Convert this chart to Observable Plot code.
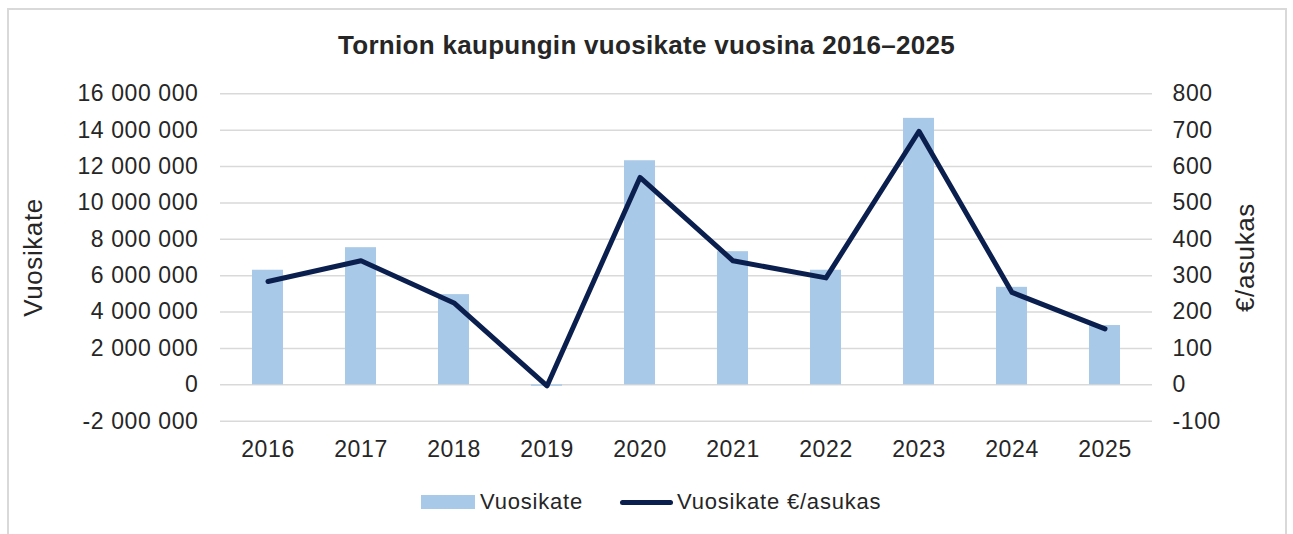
<!DOCTYPE html>
<html>
<head>
<meta charset="utf-8">
<script src="https://cdn.jsdelivr.net/npm/d3@7"></script>
<script src="https://cdn.jsdelivr.net/npm/@observablehq/plot@0.6"></script>
<style>
  html, body { margin: 0; padding: 0; background: #fff; }
  body { width: 1293px; height: 534px; position: relative; overflow: hidden;
         font-family: "Liberation Sans", Arial, sans-serif; color: #262626; }
  #frame { position: absolute; left: 7px; top: 8px; width: 1280px; height: 560px;
           border: 2px solid #d9d9d9; border-bottom: none; box-sizing: border-box; }
  #title { position: absolute; left: 0; top: 32px; width: 1293px; text-align: center;
           font-weight: bold; font-size: 26px; line-height: 26px; letter-spacing: 0.3px; }
  #chart { position: absolute; left: 0; top: 70px; }
  .lg { position: absolute; font-size: 22px; line-height: 22px; letter-spacing: 0.8px; white-space: nowrap; }
</style>
</head>
<body>
<div id="frame"></div>
<div id="title">Tornion kaupungin vuosikate vuosina 2016–2025</div>
<div id="chart"></div>
<div id="legend"></div>
<script>
const years = [2016, 2017, 2018, 2019, 2020, 2021, 2022, 2023, 2024, 2025];
const vuosikate = [6300000, 7540000, 4960000, -80000, 12320000, 7320000, 6300000, 14650000, 5360000, 3260000];
const perAsukas = [284, 341, 225, -3, 570, 341, 294, 697, 254, 154];
const leftTicks = [-2000000, 0, 2000000, 4000000, 6000000, 8000000, 10000000, 12000000, 14000000, 16000000];
const rightTicks = [-100, 0, 100, 200, 300, 400, 500, 600, 700, 800];
const seriesNames = ["Vuosikate", "Vuosikate €/asukas"];
const leftTitle = "Vuosikate";
const rightTitle = "€/asukas";

const barColor = "#a9c9e8";
const lineColor = "#0b1f4f";
const ratio = leftTicks[leftTicks.length - 1] / rightTicks[rightTicks.length - 1];

const data = years.map((y, i) => ({year: y, v: vuosikate[i], p: perAsukas[i]}));

const fmtSpace = d => (d < 0 ? "-" : "") + Math.abs(d).toString().replace(/\B(?=(\d{3})+(?!\d))/g, " ");

const chart = Plot.plot({
  width: 1293,
  height: 400,
  marginTop: 23.3,
  marginBottom: 49.3,
  marginLeft: 220,
  marginRight: 141,
  style: {fontFamily: '"Liberation Sans", Arial, sans-serif', fontSize: "23px", color: "#262626", letterSpacing: "0.6px", background: "transparent"},
  x: {type: "band", domain: years, paddingInner: 0.667, paddingOuter: 0.3335, align: 0.5},
  y: {domain: [leftTicks[0], leftTicks[leftTicks.length - 1]]},
  marks: [
    Plot.gridY(leftTicks, {stroke: "#d9d9d9", strokeOpacity: 1, strokeWidth: 1.5}),
    Plot.barY(data, {x: "year", y: "v", fill: barColor}),
    Plot.line(data, {x: "year", y: d => d.p * ratio, stroke: lineColor, strokeWidth: 5,
                     strokeLinecap: "round", strokeLinejoin: "round"}),
    Plot.axisY(leftTicks, {anchor: "left", tickSize: 0, tickPadding: 22, tickFormat: fmtSpace,
                           label: null, fontSize: 23}),
    Plot.axisY(leftTicks, {anchor: "right", tickSize: 0, tickPadding: 20,
                           tickFormat: d => String(Math.round(d / ratio)), label: null, fontSize: 23}),
    Plot.axisX({tickSize: 0, tickPadding: 19, label: null, fontSize: 23, tickFormat: d => String(d)}),
    Plot.text([leftTitle], {frameAnchor: "left", textAnchor: "middle", dx: -187, rotate: -90, fontSize: 26, fill: "#262626"}),
    Plot.text([rightTitle], {frameAnchor: "right", textAnchor: "middle", dx: 93, rotate: -90, fontSize: 26, fill: "#262626"})
  ]
});
document.getElementById("chart").appendChild(chart);

// Legend
const legend = document.getElementById("legend");
const sw1 = document.createElement("div");
sw1.style.cssText = `position:absolute;left:421px;top:495px;width:54px;height:14px;background:${barColor}`;
legend.appendChild(sw1);
const t1 = document.createElement("div");
t1.className = "lg"; t1.textContent = seriesNames[0];
t1.style.left = "480px"; t1.style.top = "491px";
legend.appendChild(t1);
const sw2 = document.createElement("div");
sw2.style.cssText = `position:absolute;left:620px;top:500px;width:53px;height:5px;border-radius:3px;background:${lineColor}`;
legend.appendChild(sw2);
const t2 = document.createElement("div");
t2.className = "lg"; t2.textContent = seriesNames[1];
t2.style.left = "677px"; t2.style.top = "491px";
legend.appendChild(t2);
</script>
</body>
</html>
